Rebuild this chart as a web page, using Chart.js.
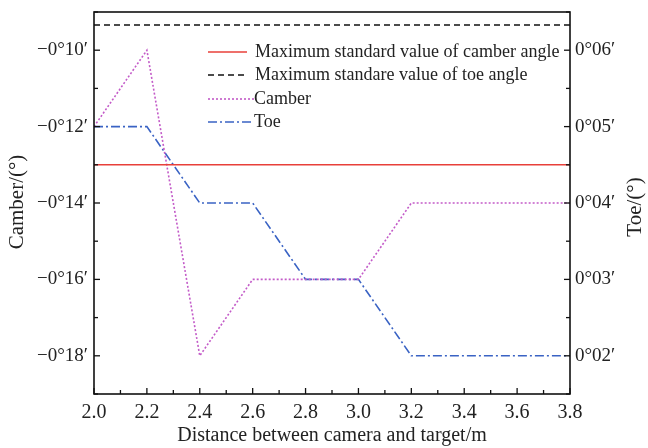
<!DOCTYPE html>
<html><head><meta charset="utf-8">
<script src="https://cdn.jsdelivr.net/npm/chart.js@4/dist/chart.umd.min.js"></script>
<style>html,body{margin:0;padding:0;background:#fff}#wrap{width:648px;height:448px}</style>
</head><body><div id="wrap"><canvas id="c" width="648" height="448"></canvas></div>
<script>
const distances = [2.0, 2.2, 2.4, 2.6, 2.8, 3.0, 3.2, 3.4, 3.6, 3.8];
const camberMin = [-12, -10, -18, -16, -16, -16, -14, -14, -14, -14];
const toeMin = [5, 5, 4, 4, 3, 3, 2, 2, 2, 2];
const maxCamberStd = -13;
const maxToeStd = 6.33;
const legendLabels = ['Maximum standard value of camber angle','Maximum standare value of toe angle','Camber','Toe'];
const FONT = '"Liberation Serif", "DejaVu Serif", serif';

function pts(xs, ys){ return xs.map((x,i)=>({x:x,y:ys[i]})); }
const xEnds = [distances[0], distances[distances.length-1]];

const styles = [
  {color:'#e8403a', dash:[], width:1.4},
  {color:'#111111', dash:[6,4], width:1.4},
  {color:'#c35bc8', dash:[2,2], width:1.6},
  {color:'#3a63c4', dash:[9,3,2,3], width:1.6}
];

const deco = {
  id:'deco',
  afterDraw(chart){
    const ctx = chart.ctx, a = chart.chartArea;
    const sx = chart.scales.x, sy = chart.scales.y, sy2 = chart.scales.y2;
    ctx.save();
    ctx.strokeStyle = '#111'; ctx.lineWidth = 1.6;
    ctx.strokeRect(a.left, a.top, a.right-a.left, a.bottom-a.top);
    ctx.lineWidth = 1.3;
    for (let i=0;i<=18;i++){
      const v = 2.0 + i*0.1; const px = sx.getPixelForValue(v);
      const L = (i%2===0)?6:4;
      ctx.beginPath(); ctx.moveTo(px,a.bottom); ctx.lineTo(px,a.bottom-L); ctx.stroke();
    }
    for (let v=-19; v<=-9; v++){
      const py = sy.getPixelForValue(v); const L = (v%2===0)?6:4;
      ctx.beginPath(); ctx.moveTo(a.left,py); ctx.lineTo(a.left+L,py); ctx.stroke();
    }
    for (let k=3;k<=13;k++){
      const v = k/2; const py = sy2.getPixelForValue(v); const L = (k%2===0)?6:4;
      ctx.beginPath(); ctx.moveTo(a.right,py); ctx.lineTo(a.right-L,py); ctx.stroke();
    }
    ctx.fillStyle = '#222'; ctx.font = '21px '+FONT; ctx.textAlign='center'; ctx.textBaseline='middle';
    ctx.save(); ctx.translate(17, 202); ctx.rotate(-Math.PI/2); ctx.fillText('Camber/(°)',0,0); ctx.restore();
    ctx.save(); ctx.translate(635, 207); ctx.rotate(-Math.PI/2); ctx.fillText('Toe/(°)',0,0); ctx.restore();
    ctx.font = '18px '+FONT;
    ctx.textAlign='left';
    const lx0 = a.left+114, rows=[52,75,99,122];
    legendLabels.forEach((t,i)=>{
      const s = styles[i]; const y = rows[i];
      const lx1 = (i<2)? lx0+39 : lx0+46;
      ctx.strokeStyle = s.color; ctx.lineWidth = s.width; ctx.setLineDash(s.dash);
      ctx.beginPath(); ctx.moveTo(lx0,y); ctx.lineTo(lx1,y); ctx.stroke();
      ctx.setLineDash([]);
      ctx.fillStyle='#222';
      ctx.fillText(t, (i<2)? lx0+47 : lx0+46, y);
    });
    ctx.restore();
  }
};

new Chart(document.getElementById('c'), {
  type:'line',
  data:{ datasets:[
    {label:legendLabels[0], data:pts(xEnds,[maxCamberStd,maxCamberStd]), yAxisID:'y', borderColor:styles[0].color, borderWidth:styles[0].width, borderDash:styles[0].dash, pointRadius:0},
    {label:legendLabels[1], data:pts(xEnds,[maxToeStd,maxToeStd]), yAxisID:'y2', borderColor:styles[1].color, borderWidth:styles[1].width, borderDash:styles[1].dash, pointRadius:0},
    {label:legendLabels[2], data:pts(distances,camberMin), yAxisID:'y', borderColor:styles[2].color, borderWidth:styles[2].width, borderDash:styles[2].dash, pointRadius:0, tension:0},
    {label:legendLabels[3], data:pts(distances,toeMin), yAxisID:'y2', borderColor:styles[3].color, borderWidth:styles[3].width, borderDash:styles[3].dash, pointRadius:0, tension:0}
  ]},
  options:{
    responsive:false, animation:false, devicePixelRatio:1,
    layout:{padding:{top:12,left:0,right:0,bottom:0}},
    plugins:{legend:{display:false}, tooltip:{enabled:false}},
    scales:{
      x:{type:'linear', min:2.0, max:3.8,
        afterFit(s){ s.height = 54; s.paddingLeft = 0; s.paddingRight = 0; },
        grid:{display:false, drawTicks:false}, border:{display:false},
        ticks:{stepSize:0.1, padding:7, color:'#222', font:{family:FONT,size:20}, maxRotation:0, autoSkip:false,
          callback:(v)=>{ const k=Math.round(v*10); return k%2===0 ? (k/10).toFixed(1) : null; }},
        title:{display:true, text:'Distance between camera and target/m', color:'#222', font:{family:FONT,size:20}, padding:{top:3,bottom:0}}
      },
      y:{position:'left', min:-19, max:-9,
        afterFit(s){ s.width = 94; s.paddingTop = 0; s.paddingBottom = 0; },
        grid:{display:false, drawTicks:false}, border:{display:false},
        ticks:{stepSize:1, padding:6, color:'#222', font:{family:FONT,size:19}, autoSkip:false,
          callback:(v)=>{ const k=Math.round(v); return (k%2===0) ? '−0°'+String(-k).padStart(2,'0')+'′' : null; }}
      },
      y2:{position:'right', min:1.5, max:6.5,
        afterFit(s){ s.width = 78; s.paddingTop = 0; s.paddingBottom = 0; },
        grid:{display:false, drawTicks:false}, border:{display:false},
        ticks:{stepSize:0.5, padding:5, color:'#222', font:{family:FONT,size:19}, autoSkip:false,
          callback:(v)=>{ const k=Math.round(v*2); return (k%2===0) ? '0°'+String(k/2).padStart(2,'0')+'′' : null; }}
      }
    }
  },
  plugins:[deco]
});
</script></body></html>
